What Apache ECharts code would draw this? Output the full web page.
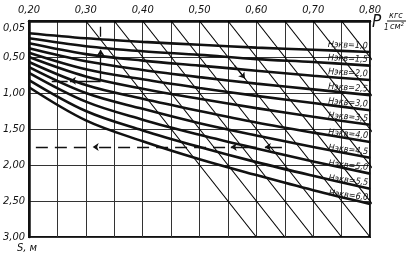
<!DOCTYPE html>
<html><head><meta charset="utf-8">
<script src="https://cdn.jsdelivr.net/npm/echarts@6/dist/echarts.min.js"></script>
<style>html,body{margin:0;padding:0;background:#fff}#c{width:414px;height:259px}</style>
</head><body><div id="c"></div>
<script>
// P1 (кгс/см²) sample positions along the curves
const pPoints = [0.20, 0.30, 0.40, 0.50, 0.60, 0.70, 0.80];
// curve names
const hLabels = ['Нэкв=1,0','Нэкв=1,5','Нэкв=2,0','Нэкв=2,5','Нэкв=3,0','Нэкв=3,5','Нэкв=4,0','Нэкв=4,5','Нэкв=5,0','Нэкв=5,5','Нэкв=6,0'];
// S (m) values of each curve at pPoints
const h10 = [0.17, 0.24, 0.29, 0.33, 0.37, 0.40, 0.43];
const h15 = [0.24, 0.35, 0.42, 0.47, 0.53, 0.57, 0.62];
const h20 = [0.31, 0.46, 0.55, 0.62, 0.69, 0.76, 0.82];
const h25 = [0.38, 0.56, 0.68, 0.78, 0.87, 0.95, 1.03];
const h30 = [0.44, 0.67, 0.81, 0.93, 1.04, 1.14, 1.24];
const h35 = [0.50, 0.77, 0.94, 1.08, 1.21, 1.33, 1.44];
const h40 = [0.57, 0.89, 1.08, 1.25, 1.41, 1.55, 1.68];
const h45 = [0.64, 1.00, 1.22, 1.42, 1.59, 1.75, 1.90];
const h50 = [0.72, 1.12, 1.37, 1.58, 1.77, 1.95, 2.12];
const h55 = [0.82, 1.25, 1.52, 1.75, 1.96, 2.15, 2.33];
const h60 = [0.92, 1.38, 1.67, 1.92, 2.14, 2.35, 2.54];
const curves = [h10,h15,h20,h25,h30,h35,h40,h45,h50,h55,h60];
// diagonal guide lines: P at S=0 and P at S=3.0
const diagTop    = [0.30, 0.35, 0.40, 0.45, 0.50, 0.55, 0.60, 0.65, 0.70, 0.75];
const diagBottom = [0.60, 0.65, 0.70, 0.75, 0.80, 0.85, 0.90, 0.95, 1.00, 1.05];
// axis ticks
const yTicks = [0.05, 0.50, 1.00, 1.50, 2.00, 2.50, 3.00];
// example key paths [from, to] (P, S)
const keyArrows = [
  [[0.645, 1.75], [0.615, 1.75]],
  [[0.600, 1.75], [0.555, 1.75]],
  [[0.326, 0.83], [0.326, 0.40]],
  [[0.326, 0.83], [0.272, 0.83]],
  [[0.562, 0.62], [0.580, 0.80]]
];
const keyDashed = [
  [[0.545, 1.75], [0.312, 1.75]],
  [[0.300, 1.75], [0.200, 1.75]]
];
const keyPlain = [
  [[0.326, 0.22], [0.326, 0.08]],
  [[0.268, 0.83], [0.240, 0.83]]
];

const FF = "'Liberation Sans Narrow','DejaVu Sans Condensed','Liberation Sans',sans-serif";
const fmt = v => v.toFixed(2).replace('.', ',');

const series = [];
diagTop.forEach((t, i) => {
  series.push({type:'line', data:[[t,0],[diagBottom[i],3]], symbol:'none', silent:true,
    lineStyle:{color:'#000', width:1.1}, clip:true, z:2});
});
curves.forEach((c, i) => {
  const data = c.map((v, j) => j === c.length - 1
    ? {value:[pPoints[j], v], label:{show:true}} : [pPoints[j], v]);
  series.push({type:'line', data, smooth:0.35, symbol:'circle', symbolSize:1, showSymbol:true,
    itemStyle:{color:'#111'}, lineStyle:{color:'#111', width:2.6}, z:3,
    label:{show:false, position:'left', distance:2, offset:[0,-6],
      rotate: -2 - i*0.5,
      formatter:() => hLabels[i], fontFamily:FF, fontStyle:'italic', fontSize:9, color:'#111'}});
});
keyArrows.forEach(seg => series.push({type:'lines', coordinateSystem:'cartesian2d', polyline:false,
  data:[{coords:seg}], symbol:['none','arrow'], symbolSize:6, lineStyle:{color:'#111', width:1.3, opacity:1}, z:4, silent:true}));
keyDashed.forEach((seg, k) => series.push({type:'lines', coordinateSystem:'cartesian2d',
  data:[{coords:seg}], symbol: k === 0 ? ['none','arrow'] : ['none','none'], symbolSize:6,
  lineStyle:{color:'#111', width:1.3, type:[12,7], opacity:1}, z:4, silent:true}));
keyPlain.forEach(seg => series.push({type:'lines', coordinateSystem:'cartesian2d',
  data:[{coords:seg}], symbol:['none','none'], lineStyle:{color:'#111', width:1.3, opacity:1}, z:4, silent:true}));

const chart = echarts.init(document.getElementById('c'));
chart.setOption({
  backgroundColor:'#fff',
  animation:false,
  grid:{left:28, right:44, top:21, bottom:22, show:true, borderColor:'#111', borderWidth:2},
  xAxis:{type:'value', position:'top', min:0.2, max:0.8, interval:0.05,
    axisLine:{show:true, lineStyle:{color:'#111', width:2.5}}, axisTick:{show:false},
    splitLine:{show:true, lineStyle:{color:'#333', width:1}},
    axisLabel:{margin:5, fontFamily:FF, fontStyle:'italic', fontSize:11, color:'#111',
      formatter:v => (Math.round(v*100) % 10 === 0) ? fmt(v) : ''}},
  yAxis:{type:'value', inverse:true, min:0, max:3, interval:0.5,
    axisLine:{show:true, lineStyle:{color:'#111', width:2.5}}, axisTick:{show:false},
    splitLine:{show:true, lineStyle:{color:'#333', width:1}},
    axisLabel:{margin:4, fontFamily:FF, fontStyle:'italic', fontSize:11, color:'#111',
      formatter:v => v === 0 ? '{a|' + fmt(yTicks[0]) + '}' : fmt(v),
      rich:{a:{padding:[14,0,0,0], fontFamily:FF, fontStyle:'italic', fontSize:11, color:'#111'}}}},
  series,
  graphic:[
    {type:'text', left:372, top:14, style:{text:'P', font:'italic 17px ' + FF, fill:'#111'}},
    {type:'text', left:384, top:24, style:{text:'1', font:'italic 8px ' + FF, fill:'#111'}},
    {type:'text', left:389, top:11, style:{text:'кгс', font:'italic 9px ' + FF, fill:'#111'}},
    {type:'line', shape:{x1:387, y1:21, x2:406, y2:21}, style:{stroke:'#111', lineWidth:1}},
    {type:'text', left:390, top:22, style:{text:'см²', font:'italic 9px ' + FF, fill:'#111'}},
    {type:'text', left:17, top:243, style:{text:'S, м', font:'italic 11px ' + FF, fill:'#111'}}
  ]
});
</script></body></html>
